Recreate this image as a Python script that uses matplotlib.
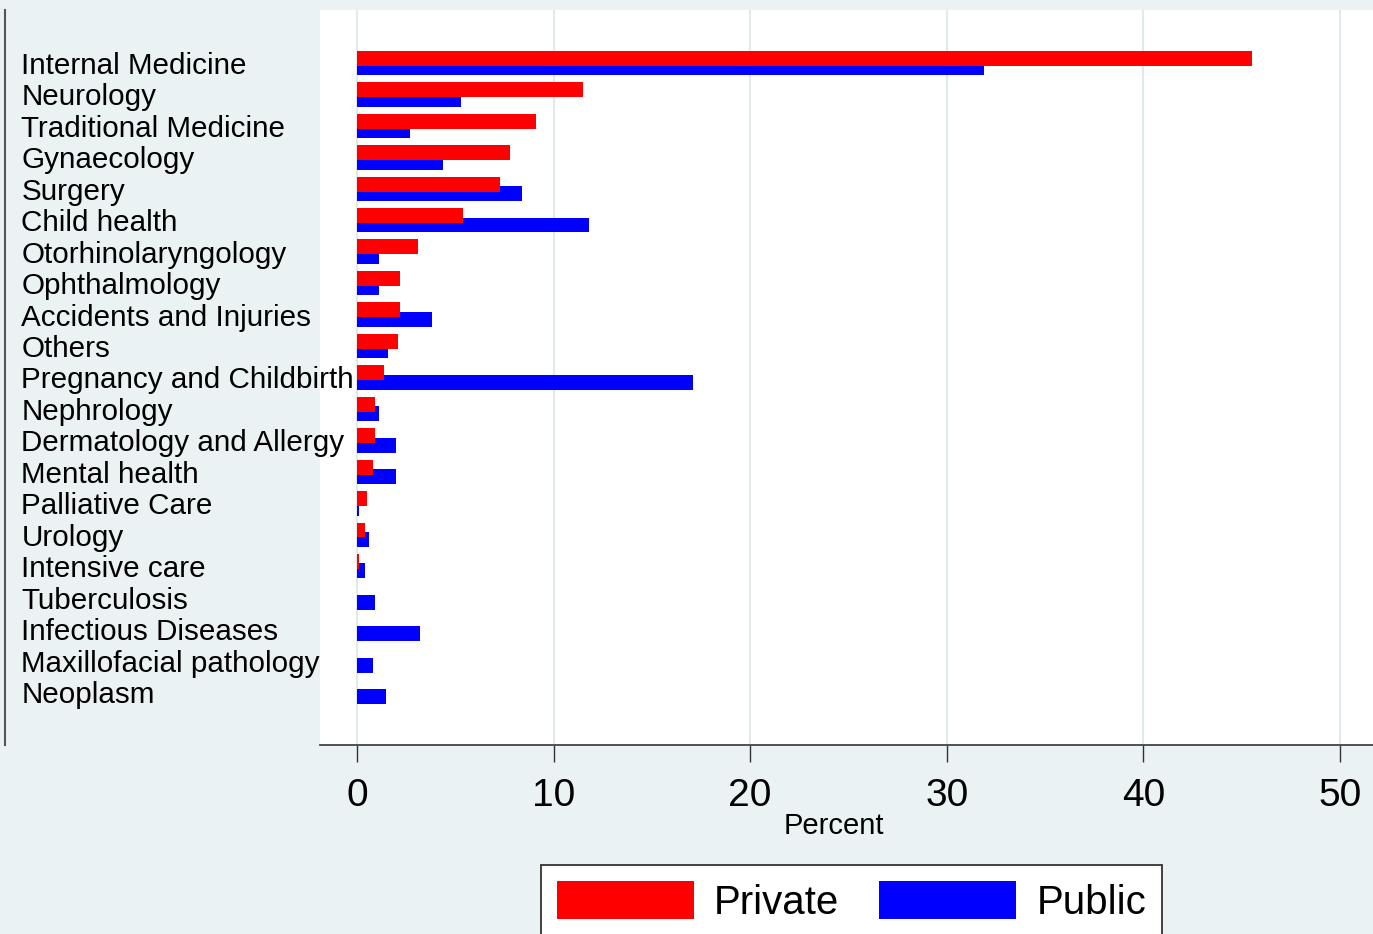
import matplotlib.pyplot as plt
from matplotlib.lines import Line2D
import numpy as np

categories = ["Internal Medicine", "Neurology", "Traditional Medicine", "Gynaecology",
              "Surgery", "Child health", "Otorhinolaryngology", "Ophthalmology",
              "Accidents and Injuries", "Others", "Pregnancy and Childbirth", "Nephrology",
              "Dermatology and Allergy", "Mental health", "Palliative Care", "Urology",
              "Intensive care", "Tuberculosis", "Infectious Diseases",
              "Maxillofacial pathology", "Neoplasm"]
private = [45.5, 11.5, 9.1, 7.8, 7.3, 5.4, 3.1, 2.2, 2.2, 2.1, 1.4, 0.9,
           0.9, 0.8, 0.5, 0.4, 0.1, 0, 0, 0, 0]
public = [31.9, 5.3, 2.7, 4.4, 8.4, 11.8, 1.1, 1.1, 3.8, 1.6, 17.1, 1.1,
          2.0, 2.0, 0.1, 0.6, 0.4, 0.9, 3.2, 0.8, 1.5]
xticks = [0, 10, 20, 30, 40, 50]

bg = "#eaf2f3"
plt.rcParams['font.family'] = ['Liberation Sans', 'DejaVu Sans']

fig = plt.figure(figsize=(13.73, 9.34), dpi=100, facecolor=bg)
ax = fig.add_axes([320/1373, 1-745/934, 1-320/1373, (745-10)/934])
ax.set_facecolor("white")

y = np.arange(len(categories))
h = 0.476
off = 0.151
ax.barh(y + off, public, height=h, color="#0000ff", label="Public", zorder=2)
ax.barh(y - off, private, height=h, color="#ff0000", label="Private", zorder=3)

ax.set_xlim(-1.88, 51.68)
ax.set_ylim(20 + 1.685, -1.685)

ax.set_xticks(xticks)
ax.set_xticklabels([str(t) for t in xticks], fontsize=28)
ax.tick_params(axis='x', length=12, width=1, color="#333333", pad=12)
ax.grid(axis='x', color="#e1e9ec", linewidth=1.5, zorder=0)
ax.set_axisbelow(True)

ax.set_yticks(y)
ax.set_yticklabels(categories, fontsize=21.3, ha='left')
ax.tick_params(axis='y', length=0, pad=215)

for s in ['top', 'right', 'left']:
    ax.spines[s].set_visible(False)
ax.spines['bottom'].set_color("#444444")
ax.spines['bottom'].set_linewidth(1.3)

fig.text(834/1373, 1-826/934, "Percent", fontsize=21, ha='center', va='center')

# vertical line on the left edge
fig.add_artist(Line2D([5/1373, 5/1373], [1-10/934, 1-745/934],
                      color="#555555", linewidth=1.5))

handles, labels = ax.get_legend_handles_labels()
order = [1, 0]
leg = fig.legend([handles[i] for i in order], [labels[i] for i in order],
                 loc='upper left', bbox_to_anchor=(541/1373, 1-865/934),
                 ncol=2, fontsize=29, handlelength=3.4, handleheight=1.1,
                 borderpad=0.39, handletextpad=0.5, columnspacing=1.0,
                 fancybox=False, framealpha=1, borderaxespad=0)
leg.get_frame().set_edgecolor("#333333")
leg.get_frame().set_linewidth(1.3)

fig.savefig("out.png", dpi=100, facecolor=bg)
